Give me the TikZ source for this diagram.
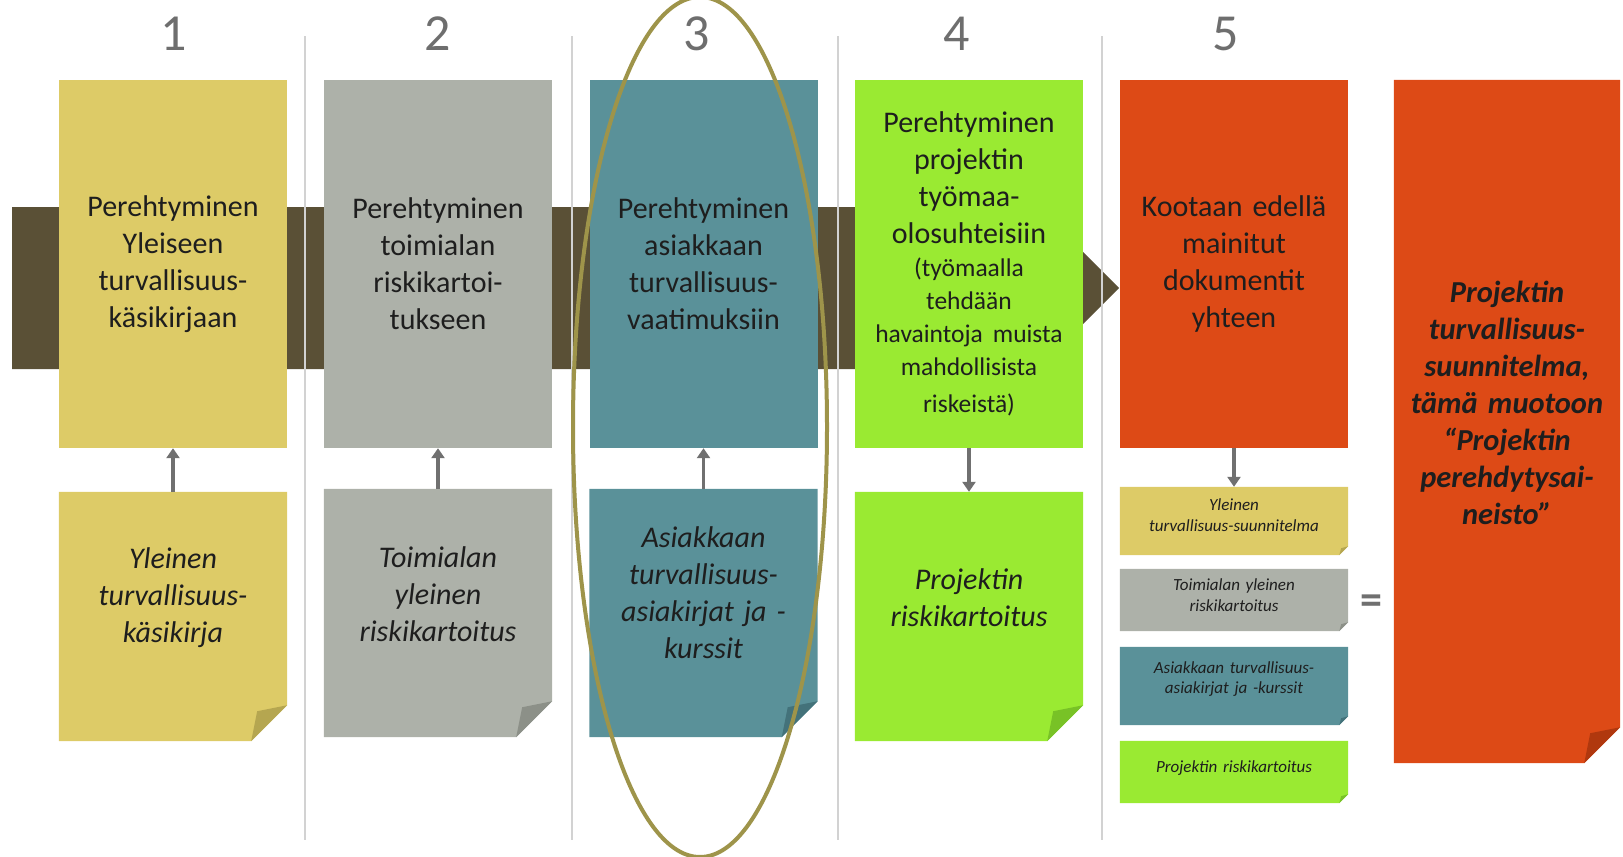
\documentclass[tikz,border=0pt]{standalone}
\usepackage{fontspec}
\setmainfont{Carlito}
\usetikzlibrary{arrows.meta}
\definecolor{cyel}{HTML}{DDCB67}
\definecolor{cyelD}{HTML}{B5A650}
\definecolor{cgry}{HTML}{ADB1A9}
\definecolor{cgryD}{HTML}{8C9088}
\definecolor{ctea}{HTML}{5A9199}
\definecolor{cteaD}{HTML}{43727A}
\definecolor{cgrn}{HTML}{9AEA32}
\definecolor{cgrnD}{HTML}{78C226}
\definecolor{cora}{HTML}{DD4A16}
\definecolor{coraD}{HTML}{B0380E}
\definecolor{cband}{HTML}{5A5036}
\definecolor{cell}{HTML}{9E944A}
\definecolor{cdiv}{HTML}{D2D2D2}
\definecolor{carr}{HTML}{707070}
\definecolor{cnum}{HTML}{6E6E6E}
\definecolor{ctxt}{HTML}{1E1E1E}
\pgfdeclarelayer{background}
\pgfsetlayers{background,main}
\newcommand\foldbox[5]{% name, fill, fold colour, fold size, inner offset
  \begin{pgfonlayer}{background}
  \fill[#2] (#1.north west) -- (#1.north east) -- ([yshift=#4]#1.south east)
     -- ([xshift=-#4]#1.south east) -- (#1.south west) -- cycle;
  \fill[#3] ([yshift=#4]#1.south east) -- ([xshift=-#4]#1.south east)
     -- ([xshift=-#4+#5, yshift=#4-#5]#1.south east) -- cycle;
  \end{pgfonlayer}}
\tikzset{
  topbox/.style={minimum width=228pt, minimum height=368pt, inner sep=0pt,
     text width=224pt, align=center, text=ctxt,
     font=\fontsize{30}{37}\selectfont},
  lowbox/.style={minimum width=228pt, inner sep=0pt},
  lowtext/.style={inner sep=0pt, text width=224pt, align=center, text=ctxt,
     font=\fontsize{30}{37}\selectfont\itshape},
  smallbox/.style={minimum width=228pt, inner sep=0pt},
  smalltext/.style={inner sep=0pt, text width=224pt, align=center, text=ctxt,
     font=\fontsize{17}{20.5}\selectfont\itshape},
  numlabel/.style={text=cnum, font=\fontsize{52}{52}\selectfont, inner sep=0pt},
  divider/.style={draw=cdiv, line width=1.6pt},
  arr/.style={draw=carr, line width=3.5pt, -{Triangle[length=10pt,width=13pt]}},
  ring/.style={draw=cell, line width=4pt},
}
\begin{document}
\begin{tikzpicture}[x=1pt,y=-1pt]
\useasboundingbox (0,0) rectangle (1623,857);
% band with arrow head
\begin{pgfonlayer}{background}
\fill[cband] (12,207) -- (1038,207) -- (1119,288) -- (1038,369) -- (12,369) -- cycle;
\draw[divider] (305,36) -- (305,840);
\draw[divider] (572,36) -- (572,840);
\draw[divider] (838,36) -- (838,840);
\draw[divider] (1102,36) -- (1102,840);
\end{pgfonlayer}
% numbers
\node[numlabel] (n1) at (174,34) {1};
\node[numlabel] (n2) at (438,34) {2};
\node[numlabel] (n3) at (697,34) {3};
\node[numlabel] (n4) at (957,34) {4};
\node[numlabel] (n5) at (1226,34) {5};
% top boxes
\node[topbox, fill=cyel] (t1) at (173,264) {Perehtyminen\\ Yleiseen\\ turvallisuus-\\ käsikirjaan};
\node[topbox, fill=cgry] (t2) at (438,264) {Perehtyminen\\ toimialan\\ riskikartoi-\\ tukseen};
\node[topbox, fill=ctea] (t3) at (703.5,264) {Perehtyminen\\ asiakkaan\\ turvallisuus-\\ vaatimuksiin};
\node[topbox, fill=cgrn] (t4) at (969,264) {Perehtyminen\\ projektin\\ työmaa-\\ olosuhteisiin\par
  \fontsize{25.5}{33}\selectfont (työmaalla\\ tehdään\\ havaintoja muista\\ mahdollisista\\ riskeistä)};
\node[topbox, fill=cora] (t5) at (1234,264) {Kootaan edellä\\ mainitut\\ dokumentit\\ yhteen};
% bottom boxes
\node[lowbox, minimum height=249pt] (b1) at (173,616.5) {};
\foldbox{b1}{cyel}{cyelD}{36pt}{6pt}
\node[lowtext] (b1t) at (173,598) {Yleinen\\ turvallisuus-\\ käsikirja};
\node[lowbox, minimum height=248pt] (b2) at (438,613) {};
\foldbox{b2}{cgry}{cgryD}{36pt}{6pt}
\node[lowtext] (b2t) at (438,594) {Toimialan\\ yleinen\\ riskikartoitus};
\node[lowbox, minimum height=248pt] (b3) at (703.5,613) {};
\foldbox{b3}{ctea}{cteaD}{36pt}{6pt}
\node[lowtext] (b3t) at (703.5,593) {Asiakkaan\\ turvallisuus-\\ asiakirjat ja -\\ kurssit};
\node[lowbox, minimum height=249pt] (b4) at (969,616.5) {};
\foldbox{b4}{cgrn}{cgrnD}{36pt}{6pt}
\node[lowtext] (b4t) at (969,598) {Projektin\\ riskikartoitus};
% column 5 small boxes
\node[smallbox, minimum height=68pt] (s1) at (1234,521) {};
\foldbox{s1}{cyel}{cyelD}{9pt}{2pt}
\node[smalltext] (s1t) at (1234,515) {Yleinen\\ turvallisuus-suunnitelma};
\node[smallbox, minimum height=62pt] (s2) at (1234,600) {};
\foldbox{s2}{cgry}{cgryD}{9pt}{2pt}
\node[smalltext] (s2t) at (1234,595) {Toimialan yleinen\\ riskikartoitus};
\node[smallbox, minimum height=78pt] (s3) at (1234,686) {};
\foldbox{s3}{ctea}{cteaD}{9pt}{2pt}
\node[smalltext] (s3t) at (1234,679) {Asiakkaan turvallisuus-\\ asiakirjat ja -kurssit};
\node[smallbox, minimum height=62pt] (s4) at (1234,772) {};
\foldbox{s4}{cgrn}{cgrnD}{9pt}{2pt}
\node[smalltext] (s4t) at (1234,768) {Projektin riskikartoitus};
% big result box
\node[lowbox, minimum width=226pt, minimum height=683pt] (r) at (1507,421.5) {};
\foldbox{r}{cora}{coraD}{36pt}{6pt}
\node[lowtext, text width=220pt, font=\fontsize{30.5}{37}\selectfont\bfseries\itshape] (rt) at (1507,403)
  {Projektin\\ turvallisuus-\\ suunnitelma,\\ tämä muotoon\\ “Projektin\\ perehdytysai-\\ neisto”};
\node[text=carr, font=\fontsize{44}{44}\selectfont\bfseries, inner sep=0pt] (eq) at (1371,605) {=};
% arrows
\draw[arr] (b1) -- (t1);
\draw[arr] (b2) -- (t2);
\draw[arr] (b3) -- (t3);
\draw[arr] (t4) -- (b4);
\draw[arr] (t5) -- (s1);
% highlight ellipse
\draw[ring] (700,427) ellipse [x radius=127, y radius=430];
\end{tikzpicture}
\end{document}
